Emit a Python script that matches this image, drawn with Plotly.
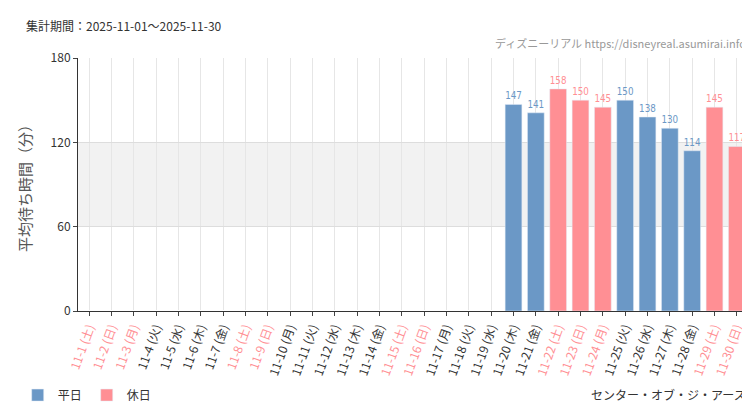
import plotly.graph_objects as go

days = list(range(1, 31))
weekdays = ["土", "日", "月", "火", "水", "木", "金"]
holidays = [1, 2, 3, 8, 9, 15, 16, 22, 23, 24, 29, 30]
wait = {20: 147, 21: 141, 22: 158, 23: 150, 24: 145, 25: 150, 26: 138,
        27: 130, 28: 114, 29: 145, 30: 117}

BLUE = "#6b98c6"
PINK = "#ff8f94"

cats = ["11-%d" % d for d in days]
ticktext = []
for d in days:
    lab = "11-%d (%s)" % (d, weekdays[(d - 1) % 7])
    col = PINK if d in holidays else "#333333"
    ticktext.append("<span style='color:%s'>%s</span>" % (col, lab))

wk_y = [wait.get(d) if d not in holidays else None for d in days]
ho_y = [wait.get(d) if d in holidays else None for d in days]

def txt(vals):
    return ["" if v is None else str(v) for v in vals]

fig = go.Figure()
fig.add_trace(go.Bar(x=cats, y=wk_y, name="平日", marker_color=BLUE,
                     text=txt(wk_y), textposition="outside", cliponaxis=False,
                     textfont=dict(color=BLUE, size=13, family="Liberation Sans Narrow, DejaVu Sans Condensed")))
fig.add_trace(go.Bar(x=cats, y=ho_y, name="休日", marker_color=PINK,
                     text=txt(ho_y), textposition="outside", cliponaxis=False,
                     textfont=dict(color=PINK, size=13, family="Liberation Sans Narrow, DejaVu Sans Condensed")))

fig.add_hrect(y0=60, y1=120, fillcolor="#f2f2f2", line_width=0, layer="below")

fig.update_layout(
    width=750, height=410, barmode="overlay", bargap=0.25,
    plot_bgcolor="white", paper_bgcolor="white",
    margin=dict(l=70, r=10, t=50, b=106),
    font=dict(family="Noto Sans CJK JP", color="#333"),
    legend=dict(orientation="h", x=-0.09, y=-0.27, xanchor="left", yanchor="top",
                font=dict(size=12)),
    xaxis=dict(type="category", tickmode="array", tickvals=cats, ticktext=ticktext, tickangle=-70,
               tickfont=dict(size=12), showgrid=True, gridcolor="#e6e6e6",
               ticks="outside", ticklen=4, showline=True, linecolor="#333"),
    yaxis=dict(range=[0, 180], tickvals=[0, 60, 120, 180], gridcolor="#dddddd",
               title=dict(text="平均待ち時間（分）", font=dict(size=15, color="#555")),
               tickfont=dict(size=12), ticks="outside", ticklen=4,
               showline=True, linecolor="#333"),
    annotations=[
        dict(text="集計期間：2025-11-01～2025-11-30", xref="paper", yref="paper",
             x=-0.08, y=1.17, xanchor="left", showarrow=False, font=dict(size=12, color="#333")),
        dict(text="ディズニーリアル https://disneyreal.asumirai.info", xref="paper", yref="paper",
             x=1.0, y=1.02, xanchor="right", yanchor="bottom", showarrow=False,
             font=dict(size=11, color="#999", family="Liberation Sans Narrow, Noto Sans CJK JP")),
        dict(text="センター・オブ・ジ・アース", xref="paper", yref="paper",
             x=1.0, y=-0.29, xanchor="right", yanchor="top", showarrow=False,
             font=dict(size=12, color="#333")),
    ],
)

fig.write_html("out.html")
